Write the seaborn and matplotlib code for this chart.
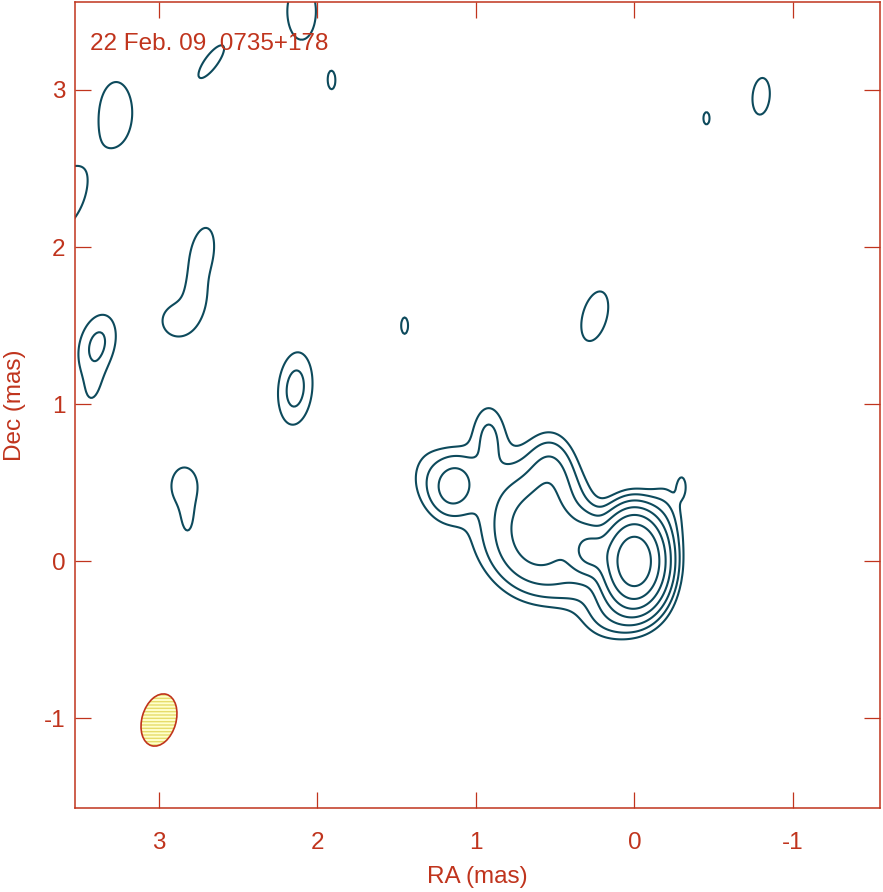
import numpy as np
import matplotlib
matplotlib.use("Agg")
import matplotlib.pyplot as plt
import seaborn as sns
from matplotlib.patches import Ellipse

# ---------------- data ----------------
# Gaussian brightness components (RA mas, Dec mas, peak in units of the lowest contour,
# sigma along RA-like axis, sigma along Dec-like axis, tilt in degrees toward west)
comp_ra   = [0.00, 0.28, 0.35, 0.60, 1.14, 1.30, 0.85, 0.92, 0.53, 0.40, 0.15, -0.20, -0.30,
             3.27, 2.67, 2.10, 1.91, -0.455, -0.80, 3.60, 2.73, 2.88, 2.76,
             3.39, 3.42, 2.14, 2.84, 2.82, 1.45, 0.25]
comp_dec  = [0.00, 0.06, 0.22, 0.20, 0.48, 0.55, 0.45, 0.80, 0.55, -0.12, -0.35, 0.30, 0.48,
             2.86, 3.18, 3.50, 3.06, 2.82, 2.96, 2.30, 1.95, 1.53, 1.68,
             1.38, 1.08, 1.10, 0.48, 0.25, 1.50, 1.56]
comp_amp  = [110.0, 17.0, 3.0, 12.0, 5.0, 1.1, 1.5, 2.0, 4.0, 2.0, 2.0, 1.5, 1.2,
             1.5, 1.5, 1.5, 1.1, 1.1, 1.5, 1.5, 1.6, 1.6, 1.0,
             2.3, 0.9, 2.52, 1.5, 1.0, 1.1, 1.5]
comp_sra  = [0.10, 0.08, 0.12, 0.17, 0.09, 0.10, 0.22, 0.07, 0.09, 0.30, 0.12, 0.08, 0.025,
             0.11, 0.045, 0.10, 0.05, 0.045, 0.06, 0.13, 0.075, 0.10, 0.06,
             0.085, 0.06, 0.079, 0.09, 0.04, 0.05, 0.085]
comp_sdec = [0.15, 0.09, 0.08, 0.20, 0.12, 0.15, 0.22, 0.14, 0.15, 0.12, 0.10, 0.15, 0.06,
             0.21, 0.14, 0.20, 0.12, 0.09, 0.13, 0.25, 0.18, 0.10, 0.10,
             0.15, 0.12, 0.17, 0.13, 0.10, 0.12, 0.18]
comp_tilt = [0, 0, 0, 0, 10, 0, 0, 0, 0, 20, 0, 0, 0,
             0, 36, 0, 0, 0, 5, 25, 10, 20, 0,
             15, 10, 5, 0, 0, 0, 15]

contour_levels = [1, 2, 4, 8, 16, 32, 64]

beam_ra, beam_dec = 3.0, -1.01
beam_minor, beam_major, beam_pa = 0.215, 0.34, 16

title_text = "22 Feb. 09  0735+178"
x_ticks = [3, 2, 1, 0, -1]
y_ticks = [-1, 0, 1, 2, 3]

# ---------------- style ----------------
sns.set_theme(style="white")
plt.rcParams["font.family"] = ["Liberation Sans", "DejaVu Sans"]
red = "#c0341d"
teal = "#0d4a5c"

fig = plt.figure(figsize=(8.83, 8.92), dpi=100)
ax = fig.add_axes([75 / 883, 1 - 808 / 892, (880 - 75) / 883, (808 - 2) / 892])

# brightness field
gx = np.linspace(-1.7, 3.8, 551)
gy = np.linspace(-1.7, 3.8, 551)
X, Y = np.meshgrid(gx, gy)
Z = np.zeros_like(X)
for x0, y0, a, sx, sy, t in zip(comp_ra, comp_dec, comp_amp, comp_sra, comp_sdec, comp_tilt):
    th = np.deg2rad(t)
    dx, dy = X - x0, Y - y0
    u = dx * np.cos(th) + dy * np.sin(th)
    v = -dx * np.sin(th) + dy * np.cos(th)
    Z += a * np.exp(-u ** 2 / (2 * sx ** 2) - v ** 2 / (2 * sy ** 2))

ax.contour(X, Y, Z, levels=contour_levels, colors=teal, linewidths=1.5)

# beam
ax.add_patch(Ellipse((beam_ra, beam_dec), beam_minor, beam_major, angle=beam_pa,
                     facecolor="#ffffcc", edgecolor="#e6dc6a", hatch="-----", lw=0, zorder=3))
ax.add_patch(Ellipse((beam_ra, beam_dec), beam_minor, beam_major, angle=beam_pa,
                     facecolor="none", edgecolor=red, lw=1.2, zorder=4))

ax.text(3.437, 3.255, title_text, color=red, fontsize=17.5, va="baseline", ha="left")

ax.set_xlim(3.53, -1.55)
ax.set_ylim(-1.57, 3.56)
ax.set_xticks(x_ticks)
ax.set_yticks(y_ticks)
ax.set_xticklabels([str(t) for t in x_ticks])
ax.set_yticklabels([str(t) for t in y_ticks])
ax.tick_params(direction="in", length=11.5, width=0.9, color=red, labelcolor=red,
               labelsize=17.5, top=True, right=True, bottom=True, left=True)
ax.tick_params(axis="x", pad=17)
ax.tick_params(axis="y", pad=7)
for s in ax.spines.values():
    s.set_color(red)
    s.set_linewidth(1.1)
ax.set_xlabel("RA (mas)", color=red, fontsize=17.5, labelpad=9)
ax.set_ylabel("Dec (mas)", color=red, fontsize=17.5, labelpad=13)
ax.grid(False)

fig.savefig("out.png", dpi=100)
